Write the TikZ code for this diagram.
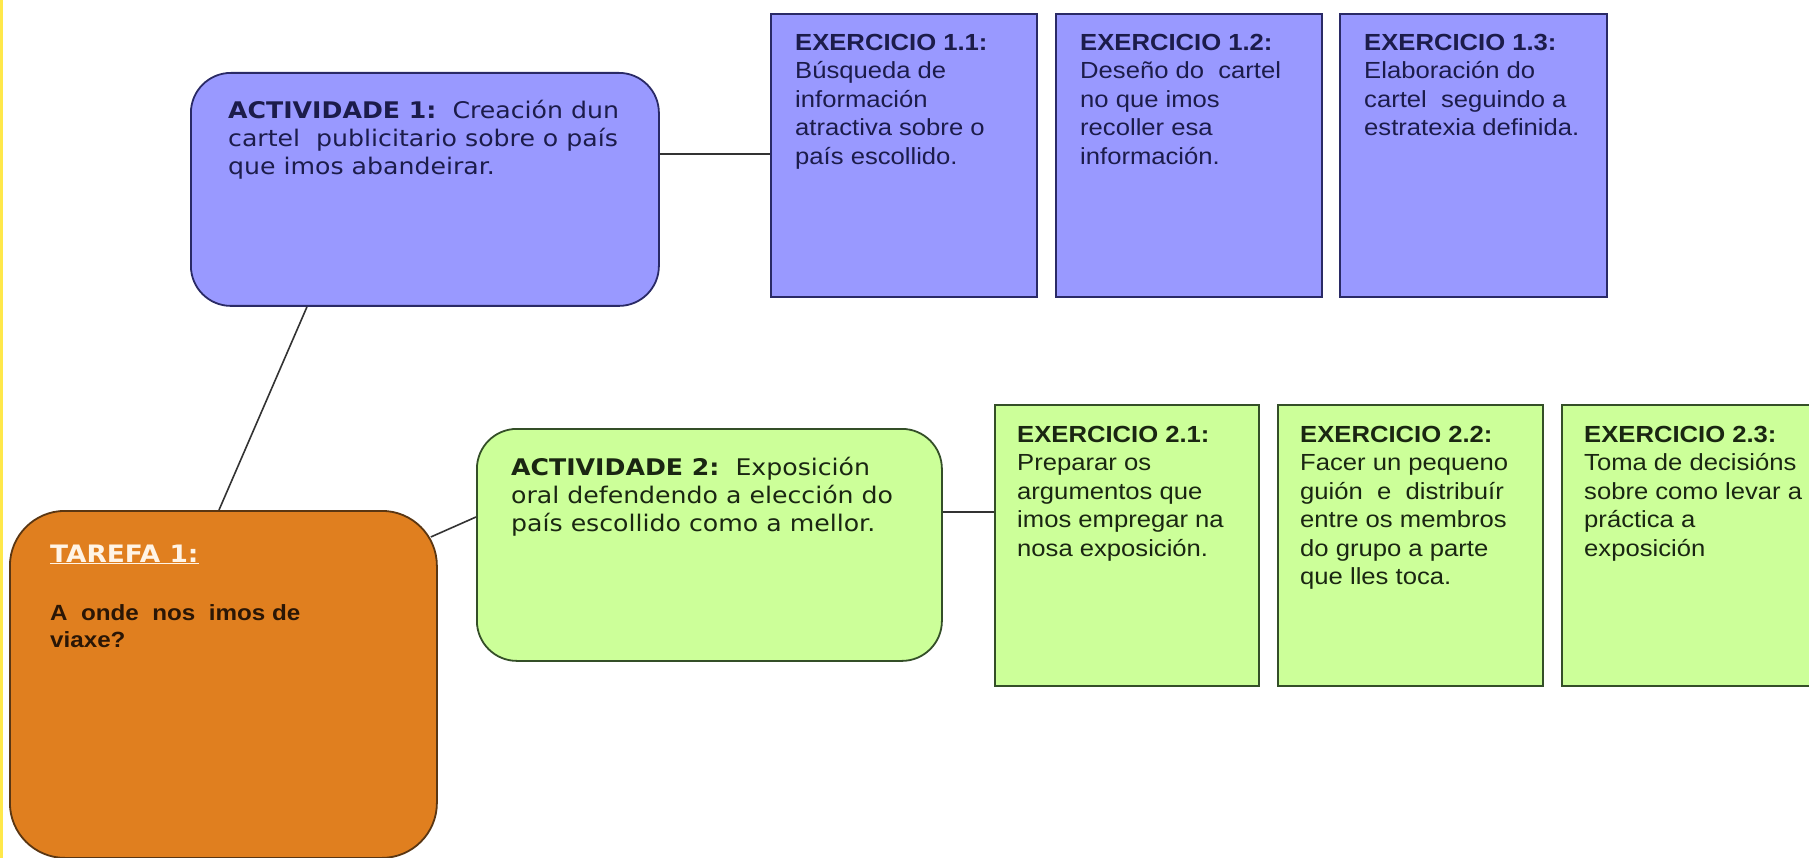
\documentclass[tikz,border=0pt]{standalone}
\usepackage{fontspec}
\usetikzlibrary{calc}
\newfontfamily\actfont[FakeStretch=1.1]{DejaVu Sans}
\newfontfamily\exfont[FakeStretch=1.1]{Liberation Sans}
\definecolor{bluefill}{HTML}{9999FF}
\definecolor{blueline}{HTML}{2A2A66}
\definecolor{bluetext}{HTML}{1C1C4A}
\definecolor{greenfill}{HTML}{CCFF99}
\definecolor{greenline}{HTML}{344F28}
\definecolor{greentext}{HTML}{1A2612}
\definecolor{orangefill}{HTML}{E07F1F}
\definecolor{orangeline}{HTML}{5A3612}
\definecolor{creamtext}{HTML}{FFF4E6}
\definecolor{browntext}{HTML}{2A1606}
\definecolor{connline}{HTML}{333333}
\definecolor{yellowstrip}{HTML}{FFE84A}
\begin{document}
\begin{tikzpicture}[x=1pt,y=-1pt,
  actbox/.style={draw, line width=1.8pt, rounded corners=40pt, anchor=north west, inner sep=0pt},
  exbox/.style={draw, line width=2.4pt, anchor=north west, inner sep=0pt},
  bluebox/.style={fill=bluefill, draw=blueline},
  greenbox/.style={fill=greenfill, draw=greenline},
  conn/.style={draw=connline, line width=1.6pt},
  acttxt/.style={anchor=north west, inner sep=0pt, align=left, font=\actfont\fontsize{22.9}{28}\selectfont},
  extxt/.style={anchor=north west, inner sep=0pt, align=left, font=\exfont\fontsize{23.3}{28.5}\selectfont},
]
\useasboundingbox (0,0) rectangle (1809,858);
\fill[white] (0,0) rectangle (1809,858);
\begin{scope}
\clip (0,0) rectangle (1809,858);
\fill[yellowstrip] (0,0) rectangle (2.5,858);

% boxes
\node[actbox, bluebox, minimum width=468, minimum height=233] (a1) at (190,72) {};
\node[exbox, bluebox, minimum width=266, minimum height=283] (e11) at (770,13) {};
\node[exbox, bluebox, minimum width=266, minimum height=283] (e12) at (1055,13) {};
\node[exbox, bluebox, minimum width=267, minimum height=283] (e13) at (1339,13) {};

\node[actbox, rounded corners=55pt, fill=orangefill, draw=orangeline, minimum width=427, minimum height=347] (tar) at (9,510) {};
\node[actbox, greenbox, minimum width=465, minimum height=232] (a2) at (476,428) {};
\node[exbox, greenbox, minimum width=264, minimum height=281] (e21) at (994,404) {};
\node[exbox, greenbox, minimum width=265, minimum height=281] (e22) at (1277,404) {};
\node[exbox, greenbox, minimum width=265, minimum height=281] (e23) at (1561,404) {};

% connectors
\draw[conn] ($(a1.north east)+(0,82)$) -- ($(e11.north west)+(0,141)$);
\draw[conn] ($(a1.south west)+(117,0)$) -- ($(tar.north west)+(210,0)$);
\coordinate (tarc) at ($(tar.north east)+(-7,27)$);
\coordinate (a2in) at ($(a2.north west)+(0,89)$);
\draw[conn] (tarc) -- (a2in);
\draw[conn] ($(a2.north east)+(0,84)$) -- ($(e21.north west)+(0,108)$);

% texts
\node[acttxt, text=bluetext] (a1t) at (228,97.4)
  {\rule{0pt}{20.6pt}\textbf{ACTIVIDADE 1:}\ \ Creación dun\\cartel\ \ publicitario sobre o país\\que imos abandeirar.};
\node[acttxt, text=greentext] (a2t) at (511,454.4)
  {\rule{0pt}{20.6pt}\textbf{ACTIVIDADE 2:}\ \ Exposición\\oral defendendo a elección do\\país escollido como a mellor.};

\node[extxt, text=bluetext] (e11t) at (795,29)
  {\rule{0pt}{21pt}\textbf{EXERCICIO 1.1:}\\Búsqueda de\\información\\atractiva sobre o\\país escollido.};
\node[extxt, text=bluetext] (e12t) at (1080,29)
  {\rule{0pt}{21pt}\textbf{EXERCICIO 1.2:}\\Deseño do\ \ cartel\\no que imos\\recoller esa\\información.};
\node[extxt, text=bluetext] (e13t) at (1364,29)
  {\rule{0pt}{21pt}\textbf{EXERCICIO 1.3:}\\Elaboración do\\cartel\ \ seguindo a\\estratexia definida.};

\node[extxt, text=greentext] (e21t) at (1017,421)
  {\rule{0pt}{21pt}\textbf{EXERCICIO 2.1:}\\Preparar os\\argumentos que\\imos empregar na\\nosa exposición.};
\node[extxt, text=greentext] (e22t) at (1300,421)
  {\rule{0pt}{21pt}\textbf{EXERCICIO 2.2:}\\Facer un pequeno\\guión\ \ e\ \ distribuír\\entre os membros\\do grupo a parte\\que lles toca.};
\node[extxt, text=greentext] (e23t) at (1584,421)
  {\rule{0pt}{21pt}\textbf{EXERCICIO 2.3:}\\Toma de decisións\\sobre como levar a\\práctica a\\exposición};

\node[anchor=base west, inner sep=0pt, text=creamtext, font=\actfont\fontsize{24}{28}\selectfont\bfseries] (tt1) at (50,562) {\underline{TAREFA 1:}};
\node[anchor=north west, inner sep=0pt, align=left, text=browntext, font=\exfont\fontsize{22}{27}\selectfont\bfseries] (tt2) at (50,600)
  {\rule{0pt}{20pt}A\ \ onde\ \ nos\ \ imos de\\viaxe?};
\end{scope}
\end{tikzpicture}
\end{document}
